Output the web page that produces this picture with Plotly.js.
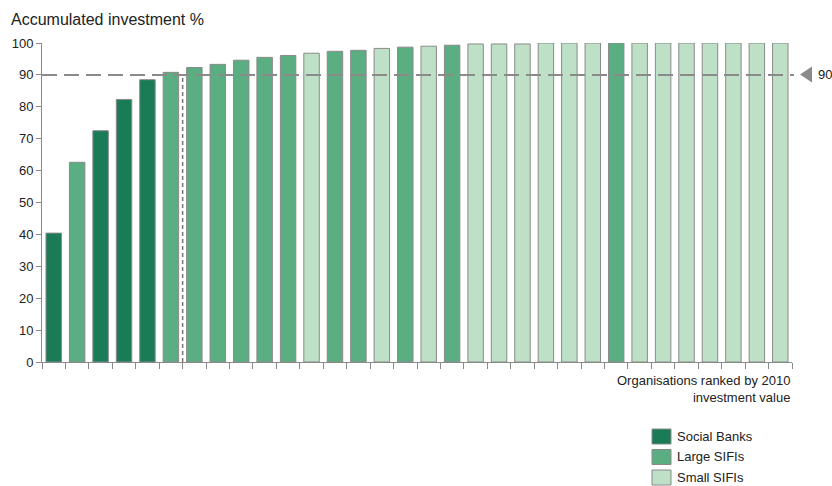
<!DOCTYPE html>
<html>
<head>
<meta charset="utf-8">
<script src="https://cdn.plot.ly/plotly-3.0.1.min.js"></script>
<style>
  html, body { margin: 0; padding: 0; background: #fff; }
  #chart { width: 832px; height: 486px; }
</style>
</head>
<body>
<div id="chart"></div>
<script>
// ---- Data ----
const organisations = ["1","2","3","4","5","6","7","8","9","10","11","12","13","14","15","16",
                       "17","18","19","20","21","22","23","24","25","26","27","28","29","30","31","32"];
const accumulated = [40.4, 62.6, 72.5, 82.3, 88.5, 90.8, 92.3, 93.3, 94.6, 95.5, 96.1, 96.8,
                     97.4, 97.7, 98.3, 98.7, 99.0, 99.3, 99.7, 99.7, 99.7, 100, 100, 100,
                     100, 100, 100, 100, 100, 100, 100, 100];
const orgType = ["Social Banks","Large SIFIs","Social Banks","Social Banks","Social Banks","Large SIFIs",
                 "Large SIFIs","Large SIFIs","Large SIFIs","Large SIFIs","Large SIFIs","Small SIFIs",
                 "Large SIFIs","Large SIFIs","Small SIFIs","Large SIFIs","Small SIFIs","Large SIFIs",
                 "Small SIFIs","Small SIFIs","Small SIFIs","Small SIFIs","Small SIFIs","Small SIFIs",
                 "Large SIFIs","Small SIFIs","Small SIFIs","Small SIFIs","Small SIFIs","Small SIFIs",
                 "Small SIFIs","Small SIFIs"];
const groupNames = ["Social Banks", "Large SIFIs", "Small SIFIs"];
const groupColors = ["#1a7b57", "#5aae82", "#bde0c6"];
const threshold = 90;
const cutoffAfter = 6; // threshold reached after the 6th organisation
const titleText = "Accumulated investment %";
const xTitleText = "Organisations ranked by 2010<br>investment value";

// ---- Layout geometry ----
const W = 832, H = 486;
const M = {l: 42, r: 40, t: 43, b: 124};
const plotW = W - M.l - M.r, plotH = H - M.t - M.b;
const px = x => (x - M.l) / plotW;          // pixel x -> paper x
const py = y => (H - M.b - y) / plotH;      // pixel y -> paper y
const FONT = "Liberation Sans, Arial, sans-serif";
const GRAY = "#8a8a8a";

const traces = groupNames.map((g, gi) => {
  const xs = [], ys = [];
  organisations.forEach((o, i) => { if (orgType[i] === g) { xs.push(o); ys.push(accumulated[i]); } });
  return {
    type: "bar", name: g, x: xs, y: ys,
    marker: {color: groupColors[gi], line: {color: GRAY, width: 1}},
    showlegend: false, hoverinfo: "x+y"
  };
});

const shapes = [
  // threshold line
  {type: "line", xref: "paper", yref: "y", x0: 0, x1: px(794), y0: threshold, y1: threshold,
   line: {color: GRAY, width: 2, dash: "15px,7px"}, layer: "above"},
  // cutoff vertical line
  {type: "line", xref: "x", yref: "y", x0: cutoffAfter - 0.5, x1: cutoffAfter - 0.5, y0: 0, y1: threshold,
   line: {color: "#777", width: 1.5, dash: "4px,3px"}, layer: "above"},
  // triangle marker
  {type: "path", xref: "paper", yref: "paper",
   path: `M ${px(812)},${py(66.5)} L ${px(800)},${py(74.5)} L ${px(812)},${py(82.5)} Z`,
   fillcolor: GRAY, line: {width: 0}}
];

const annotations = [
  {xref: "paper", yref: "y", x: px(833), y: threshold, xanchor: "right", yanchor: "middle",
   text: String(threshold), showarrow: false, borderpad: 0, font: {family: FONT, size: 13, color: "#222"}},
  {xref: "paper", yref: "paper", x: 1, y: py(371), xanchor: "right", yanchor: "top", align: "right",
   text: xTitleText, showarrow: false, font: {family: FONT, size: 13, color: "#222"}}
];

// custom legend
groupNames.forEach((g, i) => {
  const top = 429 + i * 20.5;
  shapes.push({type: "rect", xref: "paper", yref: "paper",
    x0: px(652), x1: px(671), y0: py(top + 15), y1: py(top),
    fillcolor: groupColors[i], line: {color: GRAY, width: 1}});
  annotations.push({xref: "paper", yref: "paper", x: px(676), y: py(top + 7.5),
    xanchor: "left", yanchor: "middle", text: g, showarrow: false, borderpad: 0,
    font: {family: FONT, size: 13, color: "#222"}});
});

const layout = {
  width: W, height: H,
  margin: M,
  paper_bgcolor: "#fff", plot_bgcolor: "#fff",
  font: {family: FONT, size: 13, color: "#222"},
  title: {text: titleText, font: {family: FONT, size: 16, color: "#222"},
          xref: "container", yref: "container", x: 11 / W, xanchor: "left",
          y: 1 - 19 / H, yanchor: "middle"},
  barmode: "overlay",
  bargap: 0.34,
  showlegend: false,
  xaxis: {type: "category", categoryorder: "array", categoryarray: organisations,
          range: [-0.5, organisations.length - 0.5], showticklabels: false,
          tickson: "boundaries", ticks: "outside", ticklen: 6, tickcolor: GRAY, tickwidth: 1,
          showline: true, linecolor: GRAY, linewidth: 1, showgrid: false, zeroline: false,
          fixedrange: true},
  yaxis: {range: [0, 100], tickvals: [0,10,20,30,40,50,60,70,80,90,100],
          ticks: "outside", ticklen: 5, tickcolor: GRAY, tickwidth: 1,
          showline: true, linecolor: GRAY, linewidth: 1, showgrid: false, zeroline: false,
          tickfont: {family: FONT, size: 13, color: "#222"}, fixedrange: true},
  shapes: shapes,
  annotations: annotations
};

Plotly.newPlot("chart", traces, layout, {displayModeBar: false, staticPlot: true});
</script>
</body>
</html>
